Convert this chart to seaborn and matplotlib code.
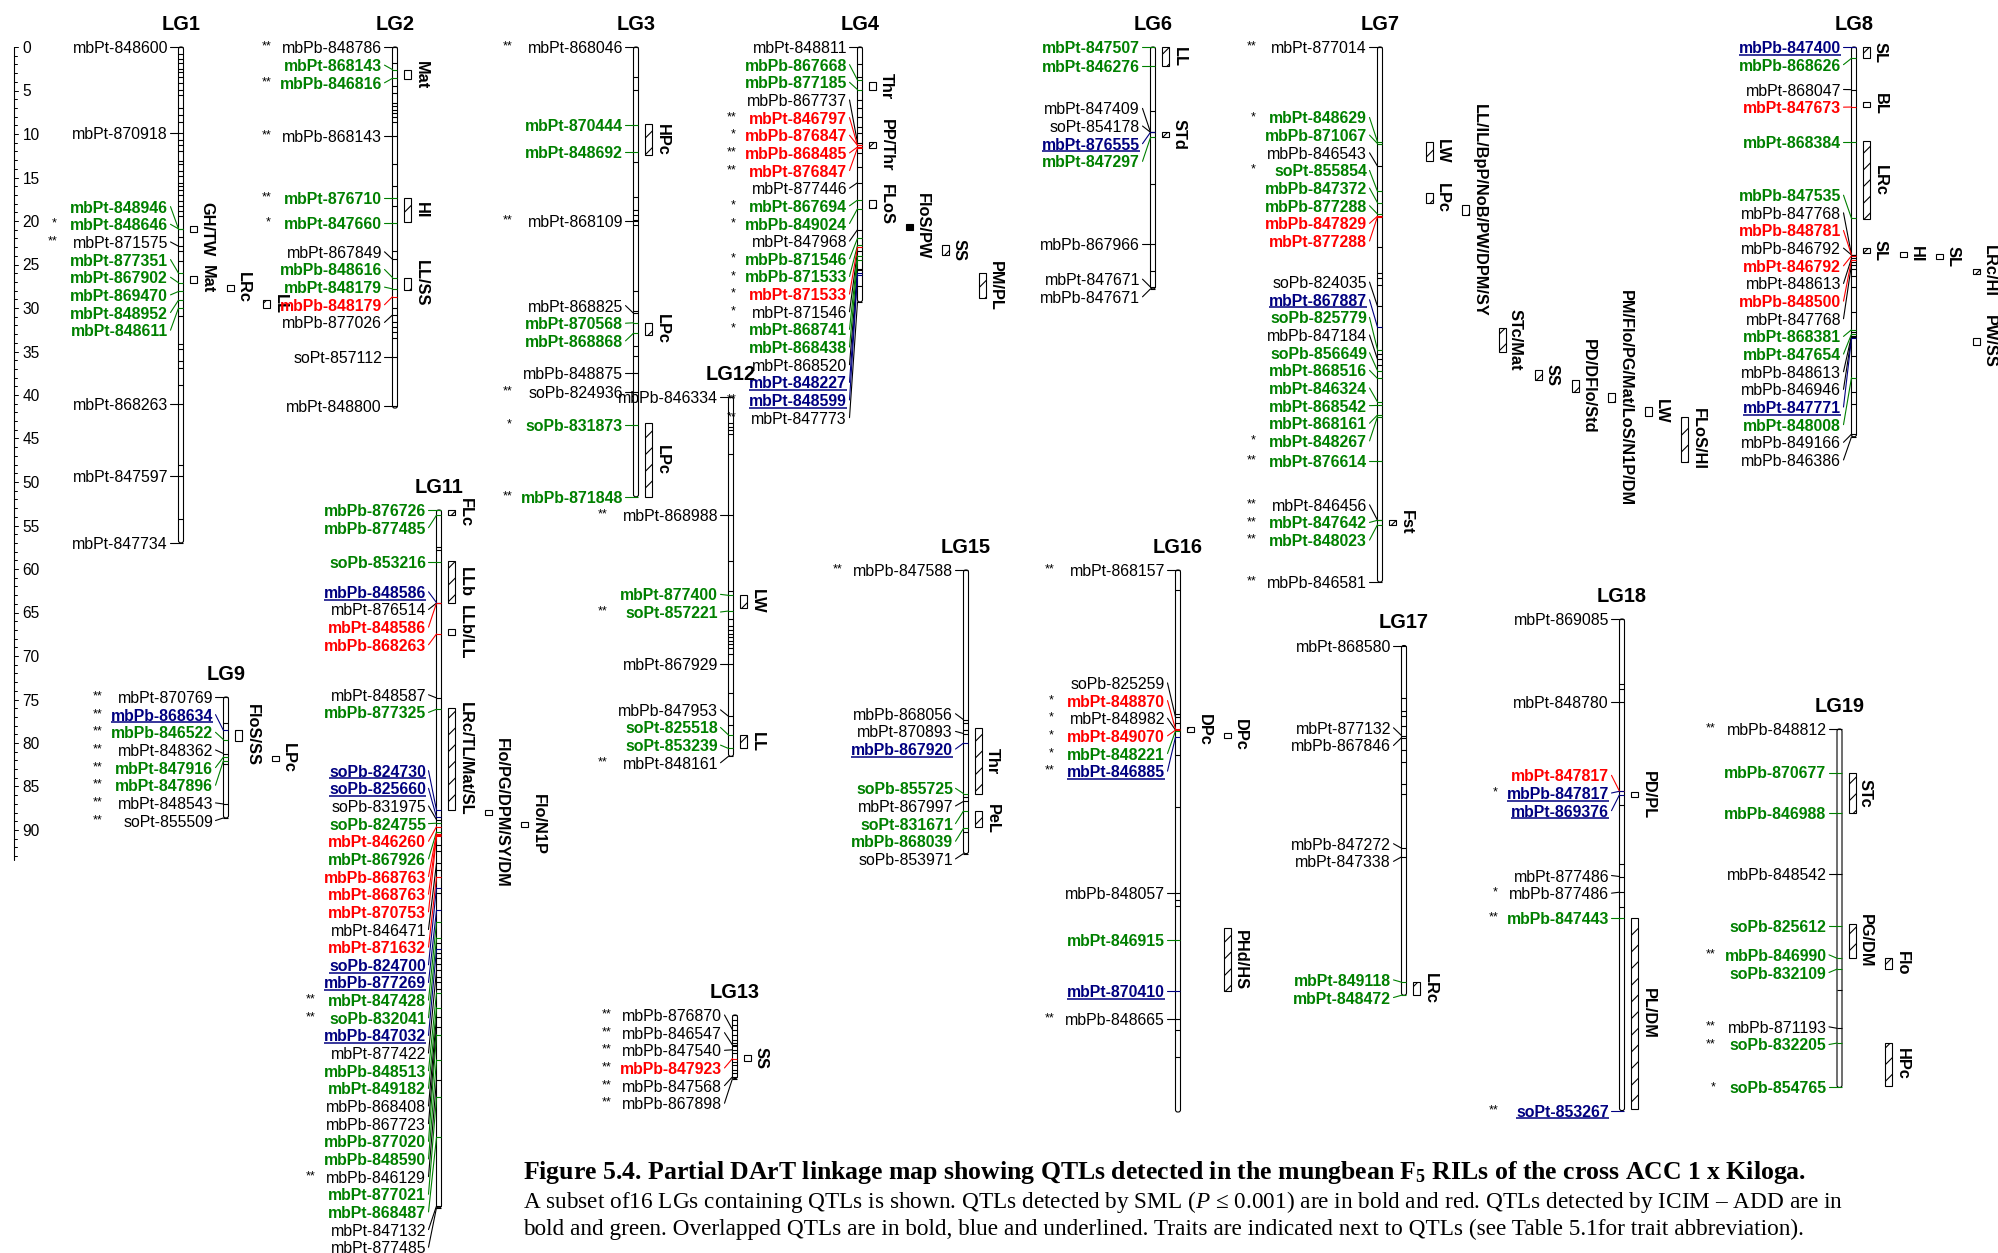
import numpy as np
import pandas as pd
import matplotlib
matplotlib.use("Agg")
import matplotlib.pyplot as plt
from matplotlib.patches import Rectangle, FancyBboxPatch
import seaborn as sns

# ------------------------------------------------------------------
# Marker data per linkage group: (marker, position cM, class, significance)
# class: n = plain, s = SML (red), i = ICIM-ADD (green), o = overlapped (blue)
# ------------------------------------------------------------------
lg1_length = 57.0
lg1_markers = [
    ("mbPt-848600", 0.0, "n", ""), ("mbPt-870918", 9.9, "n", ""),
    ("mbPt-848946", 20.9, "i", ""), ("mbPt-848646", 20.9, "i", "*"),
    ("mbPt-871575", 22.9, "n", "**"), ("mbPt-877351", 26.0, "i", ""),
    ("mbPt-867902", 27.1, "i", ""), ("mbPt-869470", 28.1, "i", ""),
    ("mbPt-848952", 29.1, "i", ""), ("mbPt-848611", 30.0, "i", ""),
    ("mbPt-868263", 41.0, "n", ""), ("mbPt-847597", 49.3, "n", ""),
    ("mbPt-847734", 57.0, "n", ""),
]
lg1_other = [0.8, 1.4, 1.8, 2.5, 2.9, 3.5, 4.1, 4.9, 5.5, 7.0, 7.8, 8.6, 10.7, 11.3,
             11.9, 13.1, 13.5, 14.2, 14.8, 15.6, 16.0, 16.4, 17.0, 17.7, 18.3, 18.9,
             19.4, 21.8, 23.4, 24.6, 30.9, 34.1, 34.7, 36.1, 36.9, 38.8, 48.0, 54.2]
lg1_qtls = [("GH/TW", 20.6, 21.3, 1, "h"), ("Mat", 26.3, 27.1, 1, "h"),
            ("LRc", 27.3, 28.1, 2, "e"), ("LL", 29.1, 30.0, 3, "h")]

lg2_length = 41.5
lg2_markers = [
    ("mbPb-848786", 0.0, "n", "**"), ("mbPt-868143", 2.6, "i", ""),
    ("mbPb-846816", 3.6, "i", "**"), ("mbPb-868143", 10.2, "n", "**"),
    ("mbPt-876710", 17.4, "i", "**"), ("mbPt-847660", 20.2, "i", "*"),
    ("mbPt-867849", 24.4, "n", ""), ("mbPb-848616", 26.5, "i", ""),
    ("mbPt-848179", 27.8, "i", ""), ("mbPb-848179", 28.7, "s", ""),
    ("mbPb-877026", 30.8, "n", ""), ("soPt-857112", 35.6, "n", ""),
    ("mbPt-848800", 41.3, "n", ""),
]
lg2_other = [1.8, 4.5, 5.3, 6.4, 6.8, 7.2, 7.6, 8.0, 8.6, 13.5, 16.0, 18.3, 23.4,
             30.0, 31.6, 32.2, 32.8, 33.4]
lg2_qtls = [("Mat", 2.7, 3.7, 1, "e"), ("HI", 17.4, 20.1, 1, "h"),
            ("LL/SS", 26.5, 27.9, 1, "h")]

lg3_length = 51.7
lg3_markers = [
    ("mbPt-868046", 0.0, "n", "**"), ("mbPt-870444", 9.0, "i", ""),
    ("mbPt-848692", 12.1, "i", ""), ("mbPt-868109", 20.0, "n", "**"),
    ("mbPt-868825", 30.6, "n", ""), ("mbPt-870568", 31.7, "i", ""),
    ("mbPt-868868", 32.9, "i", ""), ("mbPb-848875", 37.5, "n", ""),
    ("soPb-824936", 39.6, "n", "**"), ("soPb-831873", 43.4, "i", "*"),
    ("mbPb-871848", 51.7, "i", "**"),
]
lg3_other = [3.4, 4.9, 13.2, 17.2, 18.7, 19.3, 19.9, 20.5, 28.1, 30.4, 34.4, 35.5]
lg3_qtls = [("HPc", 8.9, 12.4, 1, "h"), ("LPc", 31.7, 33.1, 1, "h"),
            ("LPc", 43.2, 51.7, 1, "h")]

lg4_length = 29.3
lg4_markers = [
    ("mbPt-848811", 0.0, "n", ""), ("mbPb-867668", 3.8, "i", ""),
    ("mbPb-877185", 4.9, "i", ""), ("mbPb-867737", 11.0, "n", ""),
    ("mbPt-846797", 11.3, "s", "**"), ("mbPb-876847", 11.3, "s", "*"),
    ("mbPb-868485", 11.5, "s", "**"), ("mbPt-876847", 11.6, "s", "**"),
    ("mbPt-877446", 15.6, "n", ""), ("mbPt-867694", 17.6, "i", "*"),
    ("mbPb-849024", 18.6, "i", "*"), ("mbPt-847968", 21.0, "n", ""),
    ("mbPb-871546", 22.0, "i", "*"), ("mbPb-871533", 22.8, "i", "*"),
    ("mbPt-871533", 23.0, "s", "*"), ("mbPt-871546", 23.5, "n", "*"),
    ("mbPt-868741", 24.0, "i", "*"), ("mbPt-868438", 24.5, "i", ""),
    ("mbPt-868520", 25.5, "n", ""), ("mbPt-848227", 26.0, "o", ""),
    ("mbPt-848599", 26.2, "o", "**"), ("mbPt-847773", 29.3, "n", "**"),
]
lg4_other = [1.9, 3.4, 6.1, 7.0, 8.0, 9.2, 9.9, 12.2, 13.8, 25.6, 27.5]
lg4_qtls = [("Thr", 4.0, 5.0, 1, "h"), ("PP/Thr", 10.9, 11.65, 1, "h"),
            ("FLoS", 17.6, 18.5, 1, "h"), ("FloS/PW", 20.3, 21.0, 2, "s"),
            ("SS", 22.8, 23.9, 3, "h"), ("PM/PL", 26.0, 28.9, 4, "h")]

lg6_length = 27.8
lg6_markers = [
    ("mbPt-847507", 0.0, "i", ""), ("mbPt-846276", 2.2, "i", ""),
    ("mbPt-847409", 9.8, "n", ""), ("soPt-854178", 9.8, "n", ""),
    ("mbPt-876555", 9.8, "o", ""), ("mbPt-847297", 10.4, "i", ""),
    ("mbPb-867966", 22.6, "n", ""), ("mbPt-847671", 27.6, "n", ""),
    ("mbPb-847671", 27.8, "n", ""),
]
lg6_other = [7.4, 15.7, 25.8]
lg6_qtls = [("LL", 0.0, 2.2, 1, "h"), ("STd", 9.8, 10.4, 1, "h")]

lg7_length = 61.5
lg7_markers = [
    ("mbPt-877014", 0.0, "n", "**"), ("mbPt-848629", 10.9, "i", "*"),
    ("mbPb-871067", 11.1, "i", ""), ("mbPb-846543", 13.7, "n", ""),
    ("soPt-855854", 16.6, "i", "*"), ("mbPb-847372", 17.9, "i", ""),
    ("mbPb-877288", 19.2, "i", ""), ("mbPb-847829", 19.45, "s", ""),
    ("mbPt-877288", 19.5, "s", ""), ("soPb-824035", 29.8, "n", ""),
    ("mbPt-867887", 32.2, "o", ""), ("soPb-825779", 34.8, "i", ""),
    ("mbPb-847184", 35.9, "n", ""), ("soPb-856649", 37.2, "i", ""),
    ("mbPt-868516", 38.1, "i", ""), ("mbPt-846324", 40.8, "i", ""),
    ("mbPt-868542", 41.2, "i", ""), ("mbPt-868161", 42.3, "i", ""),
    ("mbPt-848267", 42.5, "i", "*"), ("mbPt-876614", 47.6, "i", "**"),
    ("mbPt-846456", 54.4, "n", "**"), ("mbPt-847642", 54.4, "i", "**"),
    ("mbPt-848023", 54.9, "i", "**"), ("mbPb-846581", 61.5, "n", "**"),
]
lg7_other = [23.0, 26.0, 26.6, 27.4, 35.3, 36.5]
lg7_qtls = [("Fst", 54.4, 54.9, 1, "h"), ("LW", 10.9, 13.1, 2, "h"),
            ("LPc", 16.8, 17.9, 2, "h"), ("LL/IL/BpP/NoB/PW/DPM/SY", 18.2, 19.3, 3, "h"),
            ("STc/Mat", 32.3, 35.1, 4, "h"), ("SS", 37.1, 38.3, 5, "h"),
            ("PD/DFlo/Std", 38.3, 39.7, 6, "h"),
            ("PM/Flo/PG/Mat/LoS/N1P/DM", 39.8, 40.8, 7, "h"),
            ("LW", 41.4, 42.4, 8, "e"), ("FLoS/HI", 42.5, 47.7, 9, "h")]

lg8_length = 44.8
lg8_markers = [
    ("mbPb-847400", 0.0, "o", ""), ("mbPb-868626", 1.3, "i", ""),
    ("mbPt-868047", 4.9, "n", ""), ("mbPt-847673", 6.9, "s", ""),
    ("mbPt-868384", 10.9, "i", ""), ("mbPb-847535", 19.7, "i", ""),
    ("mbPb-847768", 23.9, "n", ""), ("mbPb-848781", 23.9, "s", ""),
    ("mbPb-846792", 23.9, "n", ""), ("mbPt-846792", 24.0, "s", ""),
    ("mbPt-848613", 24.3, "n", ""), ("mbPb-848500", 24.5, "s", ""),
    ("mbPt-847768", 25.0, "n", ""), ("mbPt-868381", 32.5, "i", ""),
    ("mbPt-847654", 33.0, "i", ""), ("mbPb-848613", 33.2, "n", ""),
    ("mbPb-846946", 33.3, "n", ""), ("mbPt-847771", 33.5, "o", ""),
    ("mbPt-848008", 38.0, "i", ""), ("mbPb-849166", 44.5, "n", ""),
    ("mbPb-846386", 44.8, "n", ""),
]
lg8_other = [24.7, 25.5, 26.3, 27.6, 30.5, 32.8, 35.5, 39.7, 41.0]
lg8_qtls = [("SL", 0.0, 1.3, 1, "h"), ("BL", 6.3, 6.9, 1, "h"),
            ("LRc", 10.8, 19.8, 1, "h"), ("SL", 23.1, 23.7, 1, "h"),
            ("HI", 23.6, 24.0, 2, "e"), ("SL", 23.8, 24.3, 3, "e"),
            ("LRc/HI", 25.5, 26.1, 4, "h"), ("PW/SS", 33.5, 34.3, 4, "e")]

lg9_length = 13.9
lg9_markers = [
    ("mbPt-870769", 0.0, "n", "**"), ("mbPb-868634", 3.85, "o", "**"),
    ("mbPb-846522", 4.9, "i", "**"), ("mbPt-848362", 6.5, "n", "**"),
    ("mbPt-847916", 6.9, "i", "**"), ("mbPt-847896", 7.3, "i", "**"),
    ("mbPt-848543", 12.3, "n", "**"), ("soPt-855509", 13.9, "n", "**"),
]
lg9_other = [2.95, 7.7]
lg9_qtls = [("FloS/SS", 3.8, 5.0, 1, "h"), ("LPc", 6.8, 7.3, 2, "e")]

lg11_length = 80.2
lg11_markers = [
    ("mbPb-876726", 0.0, "i", ""), ("mbPb-877485", 0.6, "i", ""),
    ("soPb-853216", 6.0, "i", ""), ("mbPb-848586", 10.65, "o", ""),
    ("mbPt-876514", 10.7, "n", ""), ("mbPt-848586", 10.7, "s", ""),
    ("mbPb-868263", 14.25, "s", ""), ("mbPt-848587", 21.6, "n", ""),
    ("mbPb-877325", 22.9, "i", ""), ("soPb-824730", 34.5, "o", ""),
    ("soPb-825660", 35.3, "o", ""), ("soPb-831975", 35.6, "n", ""),
    ("soPb-824755", 36.0, "i", ""), ("mbPt-846260", 36.4, "s", ""),
    ("mbPt-867926", 37.0, "i", ""), ("mbPb-868763", 37.2, "s", ""),
    ("mbPt-868763", 37.3, "s", ""), ("mbPt-870753", 37.5, "s", ""),
    ("mbPt-846471", 40.6, "n", ""), ("mbPt-871632", 42.2, "s", ""),
    ("soPb-824700", 43.4, "o", ""), ("mbPb-877269", 46.0, "o", ""),
    ("mbPt-847428", 47.4, "i", "**"), ("soPb-832041", 49.2, "i", "**"),
    ("mbPb-847032", 50.5, "o", ""), ("mbPt-877422", 52.9, "n", ""),
    ("mbPb-848513", 55.5, "i", ""), ("mbPt-849182", 57.2, "i", ""),
    ("mbPb-868408", 58.3, "n", ""), ("mbPb-867723", 59.4, "n", ""),
    ("mbPb-877020", 60.3, "i", ""), ("mbPb-848590", 63.2, "i", ""),
    ("mbPb-846129", 65.5, "n", "**"), ("mbPt-877021", 67.5, "i", ""),
    ("mbPt-868487", 72.1, "i", ""), ("mbPt-847132", 80.0, "n", ""),
    ("mbPt-877485", 80.2, "n", ""),
]
lg11_other = [4.2, 4.6, 38.5, 39.2, 41.4, 44.0, 49.8, 50.9, 51.5, 52.2, 53.7, 54.3, 55.0]
lg11_qtls = [("FLc", 0.0, 0.6, 1, "h"), ("LLb", 5.9, 10.65, 1, "h"),
             ("LLb/LL", 13.7, 14.4, 1, "e"), ("LRc/TL/Mat/SL", 22.8, 34.5, 1, "h"),
             ("Flo/PG/DPM/SY/DM", 34.5, 35.1, 2, "e"), ("Flo/N1P", 35.9, 36.4, 3, "e")]

lg12_length = 41.3
lg12_markers = [
    ("mbPb-846334", 0.0, "n", ""), ("mbPt-868988", 13.6, "n", "**"),
    ("mbPt-877400", 22.8, "i", ""), ("soPt-857221", 24.6, "i", "**"),
    ("mbPt-867929", 30.7, "n", ""), ("mbPb-847953", 36.7, "n", ""),
    ("soPt-825518", 38.85, "i", ""), ("soPt-853239", 40.4, "i", ""),
    ("mbPt-848161", 41.3, "n", "**"),
]
lg12_other = [3.0, 3.4, 3.8, 4.2, 6.6, 18.9, 22.3, 25.5, 26.3, 26.8, 27.2, 27.6,
              28.0, 28.4, 28.8, 29.5, 34.0, 37.7]
lg12_qtls = [("LW", 22.8, 24.2, 1, "h"), ("LL", 38.85, 40.4, 1, "h")]

lg13_length = 7.3
lg13_markers = [
    ("mbPb-876870", 1.7, "n", "**"), ("mbPb-846547", 3.45, "n", "**"),
    ("mbPb-847540", 4.0, "n", "**"), ("mbPb-847923", 5.0, "s", "**"),
    ("mbPb-847568", 7.1, "n", "**"), ("mbPb-867898", 7.3, "n", "**"),
]
lg13_other = [0.0, 0.6, 1.1, 2.3, 2.9, 3.2, 3.6, 4.4, 5.4, 5.7, 6.3, 6.7]
lg13_qtls = [("SS", 4.6, 5.25, 1, "h")]

lg15_length = 32.6
lg15_markers = [
    ("mbPb-847588", 0.0, "n", "**"), ("mbPb-868056", 17.2, "n", ""),
    ("mbPt-870893", 18.8, "n", ""), ("mbPb-867920", 19.9, "o", ""),
    ("soPb-855725", 25.7, "i", ""), ("mbPt-867997", 26.6, "n", ""),
    ("soPt-831671", 27.7, "i", ""), ("mbPb-868039", 29.7, "i", ""),
    ("soPb-853971", 32.6, "n", ""),
]
lg15_other = [17.6, 18.4, 26.1, 30.1]
lg15_qtls = [("Thr", 18.2, 25.7, 1, "h"), ("PeL", 27.7, 29.5, 1, "h")]

lg16_length = 62.3
lg16_markers = [
    ("mbPt-868157", 0.0, "n", "**"), ("soPb-825259", 16.9, "n", ""),
    ("mbPt-848870", 18.3, "s", "*"), ("mbPt-848982", 18.4, "n", "*"),
    ("mbPt-849070", 18.4, "s", "*"), ("mbPt-848221", 18.5, "i", "*"),
    ("mbPt-846885", 19.2, "o", "**"), ("mbPb-848057", 37.1, "n", ""),
    ("mbPt-846915", 42.5, "i", ""), ("mbPt-870410", 48.4, "o", ""),
    ("mbPb-848665", 51.6, "n", "**"),
]
lg16_other = [2.3, 16.5, 17.6, 21.3, 27.2, 37.9, 38.6, 52.9, 56.0]
lg16_qtls = [("DPc", 18.2, 18.5, 1, "h"), ("DPc", 18.8, 19.2, 2, "e"),
             ("PHd/HS", 41.2, 48.4, 2, "h")]

lg17_length = 40.2
lg17_markers = [
    ("mbPt-868580", 0.0, "n", ""), ("mbPt-877132", 10.35, "n", ""),
    ("mbPb-867846", 10.6, "n", ""), ("mbPb-847272", 23.3, "n", ""),
    ("mbPt-847338", 24.3, "n", ""), ("mbPt-849118", 38.7, "i", ""),
    ("mbPt-848472", 40.2, "i", ""),
]
lg17_other = [6.0, 7.5, 8.1, 9.3, 12.0, 13.4, 15.9, 17.1]
lg17_qtls = [("LRc", 38.7, 40.2, 1, "h")]

lg18_length = 56.5
lg18_markers = [
    ("mbPt-869085", 0.0, "n", ""), ("mbPt-848780", 9.5, "n", ""),
    ("mbPt-847817", 19.8, "s", ""), ("mbPb-847817", 19.8, "o", "*"),
    ("mbPt-869376", 20.2, "o", ""), ("mbPt-877486", 29.6, "n", ""),
    ("mbPb-877486", 31.4, "n", "*"), ("mbPb-847443", 34.4, "i", "**"),
    ("soPt-853267", 56.5, "o", "**"),
]
lg18_other = [7.5, 8.1, 21.4, 28.2, 33.1]
lg18_qtls = [("PD/PL", 20.0, 20.4, 1, "e"), ("PL/DM", 34.4, 56.3, 1, "h")]

lg19_length = 41.2
lg19_markers = [
    ("mbPb-848812", 0.0, "n", "**"), ("mbPb-870677", 5.0, "i", ""),
    ("mbPb-846988", 9.7, "i", ""), ("mbPb-848542", 16.7, "n", ""),
    ("soPb-825612", 22.6, "i", ""), ("mbPb-846990", 26.35, "i", "**"),
    ("soPb-832109", 27.6, "i", ""), ("mbPb-871193", 34.4, "n", "**"),
    ("soPb-832205", 36.1, "i", "**"), ("soPb-854765", 41.2, "i", "*"),
]
lg19_other = [30.0]
lg19_qtls = [("STc", 5.0, 9.7, 1, "h"), ("PG/DM", 22.4, 26.35, 1, "h"),
             ("Flo", 26.35, 27.6, 2, "h"), ("HPc", 36.1, 41.0, 2, "h")]

groups = [
    ("LG1", lg1_length, lg1_markers, lg1_other, lg1_qtls),
    ("LG2", lg2_length, lg2_markers, lg2_other, lg2_qtls),
    ("LG3", lg3_length, lg3_markers, lg3_other, lg3_qtls),
    ("LG4", lg4_length, lg4_markers, lg4_other, lg4_qtls),
    ("LG6", lg6_length, lg6_markers, lg6_other, lg6_qtls),
    ("LG7", lg7_length, lg7_markers, lg7_other, lg7_qtls),
    ("LG8", lg8_length, lg8_markers, lg8_other, lg8_qtls),
    ("LG9", lg9_length, lg9_markers, lg9_other, lg9_qtls),
    ("LG11", lg11_length, lg11_markers, lg11_other, lg11_qtls),
    ("LG12", lg12_length, lg12_markers, lg12_other, lg12_qtls),
    ("LG13", lg13_length, lg13_markers, lg13_other, lg13_qtls),
    ("LG15", lg15_length, lg15_markers, lg15_other, lg15_qtls),
    ("LG16", lg16_length, lg16_markers, lg16_other, lg16_qtls),
    ("LG17", lg17_length, lg17_markers, lg17_other, lg17_qtls),
    ("LG18", lg18_length, lg18_markers, lg18_other, lg18_qtls),
    ("LG19", lg19_length, lg19_markers, lg19_other, lg19_qtls),
]

caption_title = (r"Figure 5.4. Partial DArT linkage map showing QTLs detected in the "
                 r"mungbean F$_{\mathbf{5}}$ RILs of the cross ACC 1 x Kiloga.")
caption_lines = [
    r"A subset of16 LGs containing QTLs is shown. QTLs detected by SML ($P$ ≤ 0.001) "
    r"are in bold and red. QTLs detected by ICIM – ADD are in",
    "bold and green. Overlapped QTLs are in bold, blue and underlined. Traits are "
    "indicated next to QTLs (see Table 5.1for trait abbreviation).",
]

# ------------------------------------------------------------------
# Page layout (pixel units): chromosome centre x and top y of each group
# ------------------------------------------------------------------
W, H = 1999, 1253
PX_PER_CM = 8.7
LAYOUT = {
    "LG1": (181, 47), "LG2": (395, 47), "LG3": (636, 47), "LG4": (860, 47),
    "LG6": (1153, 47), "LG7": (1380, 47), "LG8": (1854, 47),
    "LG9": (226, 697), "LG11": (439, 510), "LG12": (731, 397),
    "LG13": (735, 1015), "LG15": (966, 570), "LG16": (1178, 570),
    "LG17": (1404, 645.5), "LG18": (1622, 619), "LG19": (1839.5, 729),
}
SCALE_X, SCALE_TOP, SCALE_END = 14, 47, 93.5
LABEL_GAP = 17.65
BAR_W = 5.0
LABEL_PAD = 13.0
STAR_PAD = 111.0
COL0, COL_STEP, QTL_W, QTL_TXT = 13.0, 36.5, 7.0, 13.0
KIND_COLOR = {"n": "#000000", "s": "#ff0000", "i": "#008000", "o": "#000080"}

MARKER_FS, TITLE_FS, TRAIT_FS, STAR_FS, SCALE_FS = 11.4, 14.4, 11.8, 9.0, 11.2

sns.set_theme(style="white")
plt.rcParams["font.family"] = ["Liberation Sans", "DejaVu Sans"]
plt.rcParams["hatch.linewidth"] = 0.8
plt.rcParams["hatch.color"] = "black"
plt.rcParams["mathtext.fontset"] = "custom"
plt.rcParams["mathtext.rm"] = "Liberation Serif"
plt.rcParams["mathtext.it"] = "Liberation Serif:italic"
plt.rcParams["mathtext.bf"] = "Liberation Serif:bold"


def spread_labels(loci, gap):
    """Stack overlapping labels, centring each cluster on its span of loci."""
    clusters = []
    for i in range(len(loci)):
        clusters.append([i, i, loci[i]])
        while True:
            c = clusters[-1]
            n = c[1] - c[0] + 1
            mid = 0.5 * (loci[c[0]] + loci[c[1]])
            c[2] = max(0.0, mid - 0.5 * (n - 1) * gap)
            if len(clusters) > 1:
                p = clusters[-2]
                pn = p[1] - p[0] + 1
                if p[2] + pn * gap > c[2] + 1e-9:
                    p[1] = c[1]
                    clusters.pop()
                    continue
            break
    out = []
    for c in clusters:
        for k in range(c[1] - c[0] + 1):
            out.append(c[2] + k * gap)
    return out


fig = plt.figure(figsize=(W / 100, H / 100), dpi=100, facecolor="white")
ax = fig.add_axes([0, 0, 1, 1])

connector_rows = []
tick_rows = []
underlined = []
seg = 0

for name, length, markers, other, qtls in groups:
    bx, top = LAYOUT[name]
    to_y = lambda cm, top=top: top + cm * PX_PER_CM

    # chromosome body
    ax.add_patch(FancyBboxPatch((bx - BAR_W / 2, top), BAR_W, length * PX_PER_CM,
                                boxstyle="round,pad=0,rounding_size=2.2",
                                fc="white", ec="black", lw=0.8, zorder=2))
    for cm in other:
        tick_rows.append((bx - BAR_W / 2, bx + BAR_W / 2, to_y(cm), "#000000"))

    ax.text(bx, top - 22.5, name, fontsize=TITLE_FS, fontweight="bold",
            ha="center", va="center", color="black", zorder=5)

    loci = [m[1] for m in markers]
    label_cm = spread_labels(loci, LABEL_GAP / PX_PER_CM)
    for (mname, cm, kind, sig), lcm in zip(markers, label_cm):
        ly = to_y(lcm)
        col = KIND_COLOR[kind]
        t = ax.text(bx - LABEL_PAD, ly + 1.5, mname, fontsize=MARKER_FS,
                    fontweight="normal" if kind == "n" else "bold",
                    ha="right", va="center", color=col, zorder=5)
        if kind == "o":
            underlined.append(t)
        if sig:
            ax.text(bx - LABEL_PAD - STAR_PAD, ly - 0.5, sig, fontsize=STAR_FS,
                    ha="right", va="center", color="black", zorder=5)
        connector_rows.append((seg, bx - LABEL_PAD + 2.5, ly, kind))
        connector_rows.append((seg, bx - BAR_W / 2, to_y(cm), kind))
        seg += 1
        tick_rows.append((bx - BAR_W / 2, bx + BAR_W / 2, to_y(cm), col))

    for trait, s, e, colno, style in qtls:
        qx = bx + COL0 + COL_STEP * (colno - 1)
        y0, y1 = to_y(s), to_y(e)
        h = max(y1 - y0, 5.0)
        yc = 0.5 * (y0 + y1)
        ytop = yc - h / 2
        if style == "s":
            ax.add_patch(Rectangle((qx - QTL_W / 2, ytop), QTL_W, h, fc="black",
                                   ec="black", lw=0.8, zorder=3))
        else:
            ax.add_patch(Rectangle((qx - QTL_W / 2, ytop), QTL_W, h, fc="white",
                                   ec="black", lw=0.8, zorder=3,
                                   hatch="//" if style == "h" else None))
        ax.text(qx + QTL_TXT, yc, trait, fontsize=TRAIT_FS, fontweight="bold",
                rotation=-90, ha="center", va="center", color="black", zorder=5)

# connectors between labels and loci
conn = pd.DataFrame(connector_rows, columns=["seg", "x", "y", "kind"])
sns.lineplot(data=conn, x="x", y="y", units="seg", estimator=None, hue="kind",
             palette=KIND_COLOR, sort=False, legend=False, linewidth=0.8, ax=ax,
             zorder=4)

# locus ticks across the chromosomes
for x0, x1, y, c in tick_rows:
    ax.plot([x0, x1], [y, y], color=c, lw=0.8, zorder=4, solid_capstyle="butt")

# centimorgan ruler
ax.plot([SCALE_X, SCALE_X], [SCALE_TOP, SCALE_TOP + SCALE_END * PX_PER_CM],
        color="black", lw=0.8)
for cm in range(0, int(SCALE_END) + 1):
    y = SCALE_TOP + cm * PX_PER_CM
    ln = 4.5 if cm % 5 == 0 else 2.8
    ax.plot([SCALE_X, SCALE_X + ln], [y, y], color="black", lw=0.7)
    if cm % 5 == 0:
        ax.text(SCALE_X + 8.5, y + 1.5, str(cm), fontsize=SCALE_FS, ha="left",
                va="center", color="black")

# caption
serif = ["Liberation Serif", "DejaVu Serif"]
cap_t = ax.text(523, 1173, caption_title, fontsize=16, fontweight="bold",
                family=serif, ha="left", va="center", color="black")
cap_a = ax.text(523, 1202, caption_lines[0], fontsize=15, family=serif,
                ha="left", va="center", color="black")
cap_b = ax.text(523, 1229, caption_lines[1], fontsize=15, family=serif,
                ha="left", va="center", color="black")

ax.set_xlim(0, W)
ax.set_ylim(H, 0)
ax.set_axis_off()

fig.canvas.draw()
renderer = fig.canvas.get_renderer()
w_t = cap_t.get_window_extent(renderer).width
cap_t.set_fontsize(16 * 1288 / w_t)
w_a = cap_a.get_window_extent(renderer).width
fs_body = 15 * 1323 / w_a
cap_a.set_fontsize(fs_body)
cap_b.set_fontsize(fs_body)

# underline the overlapped markers
fig.canvas.draw()
inv = ax.transData.inverted()
for t in underlined:
    bb = t.get_window_extent(renderer)
    (xa, ya), (xb, yb) = inv.transform([(bb.x0, bb.y0), (bb.x1, bb.y0)])
    ax.plot([xa, xb], [ya - 1.3, yb - 1.3], color=KIND_COLOR["o"], lw=1.1,
            zorder=5, solid_capstyle="butt")

fig.savefig("out.png", dpi=100, facecolor="white")
